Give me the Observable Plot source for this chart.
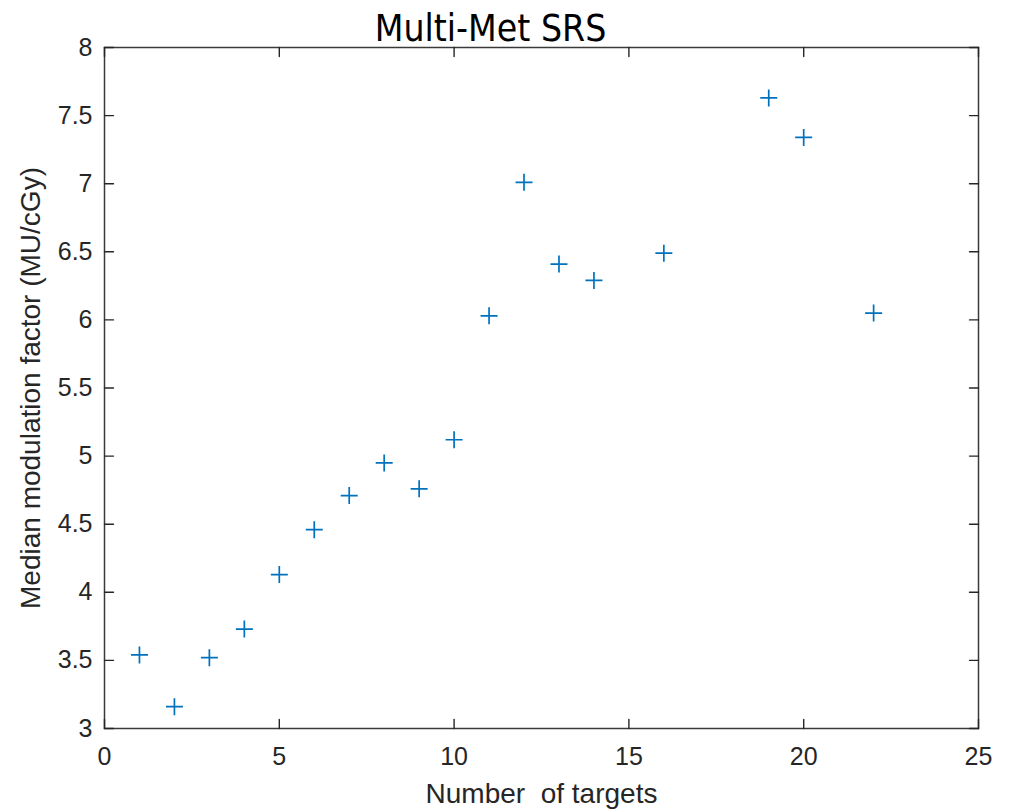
<!DOCTYPE html>
<html><head><meta charset="utf-8">
<script src="https://cdn.jsdelivr.net/npm/d3@7"></script>
<script src="https://cdn.jsdelivr.net/npm/@observablehq/plot@0.6"></script>
<style>body{margin:0;background:#fff;}</style>
</head><body><div id="chart"></div>
<script>
const targets = [1, 2, 3, 4, 5, 6, 7, 8, 9, 10, 11, 12, 13, 14, 16, 19, 20, 22];
const modulation = [3.54, 3.16, 3.52, 3.73, 4.13, 4.46, 4.71, 4.95, 4.76, 5.12, 6.03, 7.01, 6.41, 6.29, 6.49, 7.63, 7.34, 6.05];
const xTicks = [0, 5, 10, 15, 20, 25];
const yTicks = [3, 3.5, 4, 4.5, 5, 5.5, 6, 6.5, 7, 7.5, 8];
const titleText = "Multi-Met SRS";
const xLabel = "Number\u00a0 of targets";
const yLabel = "Median modulation factor (MU/cGy)";

const points = targets.map((t, i) => ({t, m: modulation[i]}));
const plusSymbol = {draw(ctx, size) { const r = Math.sqrt(size / Math.PI); ctx.moveTo(-r, 0); ctx.lineTo(r, 0); ctx.moveTo(0, -r); ctx.lineTo(0, r); }};
const tickShape = {draw(ctx, l) { ctx.moveTo(0, 0); ctx.lineTo(0, -l); }};
const axisColor = "#262626";
const tickOpts = {length: 9, anchor: "start", shape: tickShape, stroke: axisColor, strokeWidth: 1.4};

const chart = Plot.plot({
  width: 1011, height: 810,
  marginLeft: 104, marginRight: 33, marginTop: 47, marginBottom: 82,
  style: {fontFamily: "'Liberation Sans', Arial, sans-serif", background: "#fff", color: axisColor},
  x: {domain: [0, 25]},
  y: {domain: [3, 8]},
  marks: [
    Plot.frame({stroke: "#3a3a3a", strokeWidth: 1.5}),
    Plot.vector(xTicks, {x: d => d, frameAnchor: "bottom", rotate: 0, ...tickOpts}),
    Plot.vector(xTicks, {x: d => d, frameAnchor: "top", rotate: 180, ...tickOpts}),
    Plot.vector(yTicks, {y: d => d, frameAnchor: "left", rotate: 90, ...tickOpts}),
    Plot.vector(yTicks, {y: d => d, frameAnchor: "right", rotate: -90, ...tickOpts}),
    Plot.axisX(xTicks, {anchor: "bottom", tickSize: 0, tickPadding: 19, fontSize: 25, label: null, tickFormat: d => String(d), fill: axisColor}),
    Plot.axisY(yTicks, {anchor: "left", tickSize: 0, tickPadding: 12, fontSize: 25, label: null, tickFormat: d => String(d), fill: axisColor}),
    Plot.dot(points, {x: "t", y: "m", symbol: plusSymbol, r: 8.5, fill: "none", stroke: "#0072BD", strokeWidth: 1.7}),
    Plot.text([titleText], {frameAnchor: "top", dx: -51, dy: -18, lineAnchor: "middle", textAnchor: "middle", fontSize: 37, fontFamily: "'Liberation Sans Narrow', 'DejaVu Sans Condensed', sans-serif", fill: "#000"}),
    Plot.text([xLabel], {frameAnchor: "bottom", dy: 66, lineAnchor: "middle", textAnchor: "middle", fontSize: 28, fill: axisColor}),
    Plot.text([yLabel], {frameAnchor: "left", dx: -73, dy: 0, rotate: -90, lineAnchor: "middle", textAnchor: "middle", fontSize: 28, fill: axisColor})
  ]
});
document.getElementById("chart").appendChild(chart);
</script>
</body></html>
